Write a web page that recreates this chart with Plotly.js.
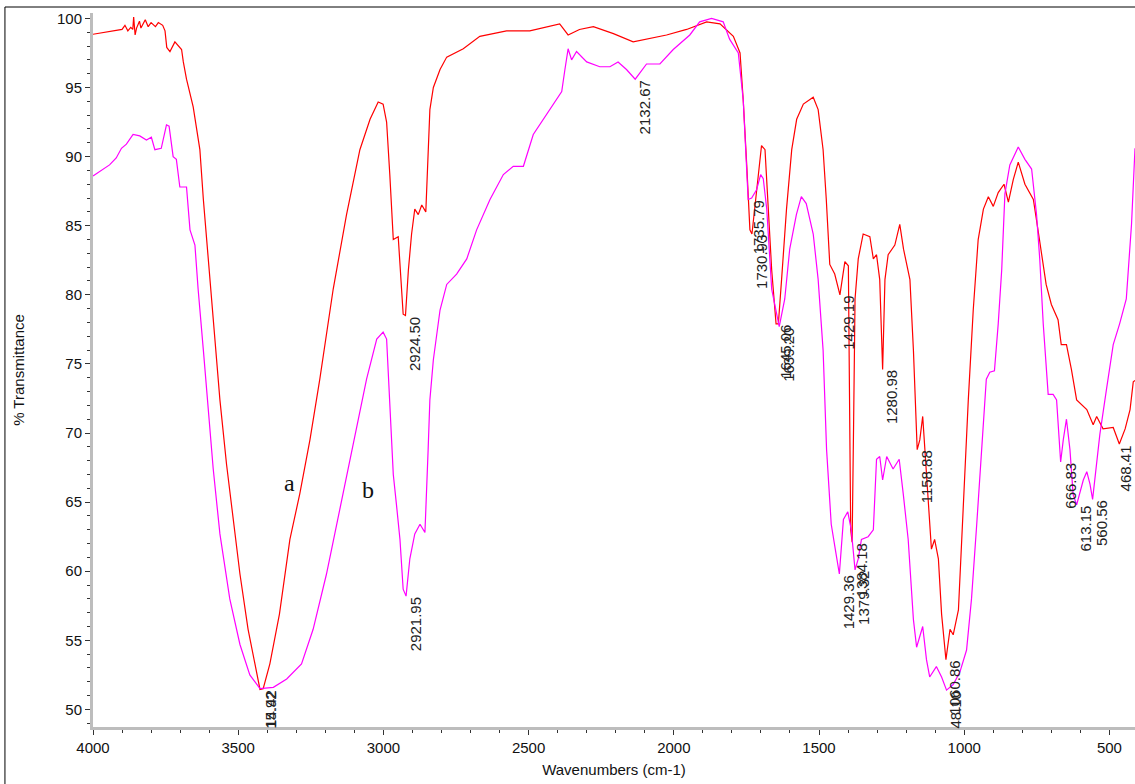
<!DOCTYPE html>
<html>
<head>
<meta charset="utf-8">
<script src="https://cdn.plot.ly/plotly-3.0.1.min.js"></script>
<style>
html,body{margin:0;padding:0;background:#fff;}
#chart{width:1135px;height:784px;}
</style>
</head>
<body>
<div id="chart"></div>
<script>
// Spectrum a (red): [wavenumber cm-1, %T]
const spectrumA = [
[4000,98.85],[3950,99.0],[3900,99.2],[3890,99.5],[3880,99.1],[3870,99.35],[3863,99.2],[3860,100.1],[3855,98.8],[3850,99.3],[3840,99.8],[3835,99.3],[3828,99.6],[3820,99.9],[3810,99.4],[3800,99.7],[3785,99.4],[3775,99.7],[3760,99.5],[3752,99.1],[3746,97.9],[3735,97.6],[3718,98.3],[3695,97.75],[3689,96.85],[3678,95.6],[3655,93.6],[3632,90.5],[3620,86.9],[3603,82.6],[3586,77.9],[3563,72.4],[3540,67.7],[3517,63.75],[3494,59.8],[3466,55.8],[3437,52.9],[3425,51.45],[3414,51.5],[3391,53.3],[3358,56.9],[3322,62.3],[3288,65.6],[3253,69.5],[3219,73.9],[3173,80.4],[3127,85.8],[3081,90.5],[3046,92.7],[3018,93.95],[3001,93.8],[2989,92.5],[2978,88.7],[2966,84.0],[2949,84.2],[2941,81.8],[2932,78.6],[2924,78.5],[2914,81.8],[2903,84.4],[2892,86.2],[2880,85.8],[2868,86.5],[2854,86.0],[2846,90.5],[2840,93.4],[2828,95.0],[2805,96.3],[2782,97.2],[2725,97.8],[2668,98.7],[2576,99.1],[2496,99.1],[2393,99.6],[2364,98.8],[2325,99.2],[2277,99.4],[2208,98.9],[2140,98.3],[2094,98.5],[2025,98.8],[1956,99.2],[1887,99.75],[1841,99.6],[1795,98.7],[1772,97.5],[1761,94.1],[1749,89.4],[1738,84.7],[1731,84.4],[1715,87.6],[1698,90.8],[1686,90.5],[1675,86.2],[1663,81.8],[1648,77.9],[1640,77.9],[1629,81.1],[1612,86.2],[1594,90.5],[1577,92.7],[1554,93.8],[1520,94.3],[1503,93.4],[1486,90.5],[1475,86.9],[1463,82.2],[1446,81.5],[1428,80.0],[1411,82.4],[1399,82.1],[1391,63.0],[1386,62.1],[1381,70.6],[1376,79.7],[1365,82.6],[1348,84.4],[1325,84.2],[1313,82.6],[1302,82.9],[1291,81.1],[1281,74.6],[1273,81.1],[1262,82.9],[1239,83.6],[1222,85.1],[1209,83.3],[1187,81.1],[1175,76.0],[1162,68.8],[1153,69.5],[1143,71.2],[1135,68.8],[1124,65.2],[1113,61.6],[1102,62.3],[1089,60.9],[1078,56.9],[1063,53.6],[1049,55.8],[1038,55.4],[1020,57.2],[1003,65.2],[986,72.4],[969,78.9],[952,84.0],[934,86.2],[917,87.1],[900,86.4],[883,87.4],[863,88.0],[848,86.7],[831,88.35],[814,89.6],[791,88.0],[762,86.9],[741,84.0],[718,80.75],[700,79.3],[677,78.2],[666,76.4],[648,76.4],[631,74.6],[613,72.4],[578,71.7],[556,70.6],[544,71.2],[522,70.3],[487,70.4],[466,69.2],[446,70.3],[429,71.7],[418,73.7],[412,73.8]
];
// Spectrum b (magenta): [wavenumber cm-1, %T]
const spectrumB = [
[4000,88.6],[3943,89.4],[3920,89.9],[3902,90.6],[3885,90.9],[3862,91.6],[3839,91.5],[3816,91.2],[3799,91.4],[3787,90.5],[3765,90.6],[3747,92.3],[3738,92.2],[3724,90.0],[3713,89.8],[3701,87.8],[3678,87.8],[3666,84.7],[3649,83.6],[3638,80.4],[3620,76.0],[3603,71.7],[3586,67.4],[3563,62.7],[3529,58.0],[3494,54.7],[3460,52.5],[3425,51.5],[3379,51.6],[3333,52.2],[3282,53.3],[3242,55.8],[3196,59.8],[3150,64.5],[3104,69.2],[3058,73.9],[3023,76.8],[3001,77.3],[2989,76.8],[2978,72.4],[2966,67.0],[2955,64.8],[2943,62.3],[2932,58.7],[2922,58.2],[2909,60.9],[2892,62.7],[2874,63.4],[2857,62.8],[2846,68.8],[2840,72.4],[2828,75.3],[2805,78.9],[2782,80.75],[2748,81.5],[2713,82.6],[2679,84.7],[2633,86.9],[2587,88.7],[2553,89.3],[2518,89.3],[2484,91.6],[2438,93.05],[2386,94.7],[2375,96.3],[2364,97.8],[2352,97.0],[2335,97.6],[2300,96.85],[2255,96.5],[2220,96.5],[2192,96.85],[2163,96.3],[2133,95.6],[2094,96.7],[2048,96.7],[2002,97.75],[1945,98.8],[1911,99.75],[1870,100.0],[1830,99.75],[1808,98.5],[1778,97.5],[1761,94.1],[1744,86.9],[1732,87.0],[1715,87.6],[1701,88.7],[1692,88.4],[1680,86.2],[1663,80.4],[1652,79.3],[1637,77.7],[1618,79.7],[1601,83.3],[1578,85.8],[1561,87.1],[1544,86.6],[1520,84.4],[1503,81.1],[1486,76.0],[1474,68.8],[1458,63.4],[1441,61.2],[1430,59.8],[1416,63.75],[1401,64.3],[1389,63.0],[1376,60.1],[1365,60.9],[1354,62.3],[1331,62.5],[1313,63.0],[1302,68.1],[1291,68.3],[1281,66.6],[1267,68.3],[1245,67.4],[1224,68.1],[1210,65.6],[1193,62.3],[1175,56.5],[1164,54.5],[1143,56.0],[1130,53.6],[1119,52.35],[1096,53.1],[1078,52.35],[1061,51.4],[1038,51.8],[1015,52.7],[992,54.3],[975,58.0],[957,63.4],[941,68.8],[924,73.9],[912,74.4],[896,74.5],[883,77.9],[871,81.8],[860,87.3],[843,89.4],[814,90.7],[791,89.8],[768,89.1],[751,85.8],[740,82.6],[728,77.9],[711,72.8],[694,72.8],[682,72.4],[668,67.9],[659,69.5],[648,71.0],[636,68.8],[625,65.55],[613,64.8],[590,66.6],[578,67.2],[567,66.3],[558,65.2],[546,67.4],[533,69.9],[510,73.2],[487,76.4],[465,77.9],[442,79.7],[424,85.1],[412,90.6]
];
// Peak labels (as printed; some are cut by the axis in the original)
const peakText = ["15.92","14.42","2924.50","2921.95","2132.67","1730.93","1735.79","1645.06","1639.20","1429.19","1429.36","1384.18","1379.32","1280.98","1158.88","1060.86","48.10","666.83","613.15","560.56","468.41"];
const peakWave = [3420,3418,2924,2922,2133,1731,1738,1645,1637,1428,1430,1386,1376,1281,1162,1063,1061,668,613,558,466];
const peakT    = [51.45,51.5,78.5,58.2,95.6,84.4,86.9,77.9,77.7,80.0,59.8,62.1,60.1,74.6,68.8,53.6,51.4,67.9,64.8,65.2,69.2];
// Curve names
const curveNames = ["a","b"];
const curveNameWave = [3322,3054];
const curveNameT = [66.4,65.9];

const traces = [
  {x: spectrumA.map(p=>p[0]), y: spectrumA.map(p=>p[1]), type:'scatter', mode:'lines',
   line:{color:'#ff0000', width:1.2}, name:'a', hoverinfo:'skip'},
  {x: spectrumB.map(p=>p[0]), y: spectrumB.map(p=>p[1]), type:'scatter', mode:'lines',
   line:{color:'#ff00ff', width:1.2}, name:'b', hoverinfo:'skip'}
];

const annotations = [];
peakText.forEach((t,i)=>{
  const last = (i === peakText.length-1);
  annotations.push({x: peakWave[i], y: peakT[i], xref:'x', yref:'y', text:t, showarrow:false,
    textangle:-90, xanchor:'center', yanchor:'top', xshift: last ? 6 : 9, yshift:0, borderpad:0,
    font:{family:'Liberation Sans, Arial, sans-serif', size:15, color:'#222'}});
});
curveNames.forEach((t,i)=>{
  annotations.push({x: curveNameWave[i], y: curveNameT[i], xref:'x', yref:'y', text:t, showarrow:false,
    font:{family:'Liberation Serif, Times New Roman, serif', size:24, color:'#111'}});
});

const tickFont = {family:'Liberation Sans, Arial, sans-serif', size:15, color:'#111'};
const layout = {
  width:1135, height:784,
  margin:{l:93, r:0, t:13, b:57, pad:0},
  paper_bgcolor:'#ffffff', plot_bgcolor:'#ffffff',
  showlegend:false,
  xaxis:{
    range:[4000,412], autorange:false,
    showline:true, linecolor:'#bdbdbd', linewidth:3, mirror:false,
    showgrid:false, zeroline:false,
    ticks:'outside', ticklen:5, tickwidth:1, tickcolor:'#333',
    tick0:0, dtick:500, tickfont:tickFont,
    minor:{dtick:100, ticks:'outside', ticklen:3, tickwidth:1, tickcolor:'#333', showgrid:false},
    title:{text:'Wavenumbers (cm-1)', font:{family:'Liberation Sans, Arial, sans-serif', size:15, color:'#111'}, standoff:10},
    automargin:false
  },
  yaxis:{
    range:[48.73,100.39], autorange:false,
    showline:true, linecolor:'#bdbdbd', linewidth:3, mirror:false,
    showgrid:false, zeroline:false,
    ticks:'outside', ticklen:5, tickwidth:1, tickcolor:'#333',
    tick0:0, dtick:5, tickfont:tickFont,
    minor:{dtick:1, ticks:'outside', ticklen:3, tickwidth:1, tickcolor:'#333', showgrid:false},
    title:{text:'% Transmittance', font:{family:'Liberation Sans, Arial, sans-serif', size:15, color:'#111'}, standoff:29},
    automargin:false
  },
  annotations: annotations,
  shapes:[
    {type:'rect', xref:'paper', yref:'paper', x0:-0.0845, x1:1.2, y0:-0.2, y1:1.0084,
     line:{color:'#000', width:1}, fillcolor:'rgba(0,0,0,0)', layer:'below'}
  ]
};

Plotly.newPlot('chart', traces, layout, {displayModeBar:false, staticPlot:true});
</script>
</body>
</html>
